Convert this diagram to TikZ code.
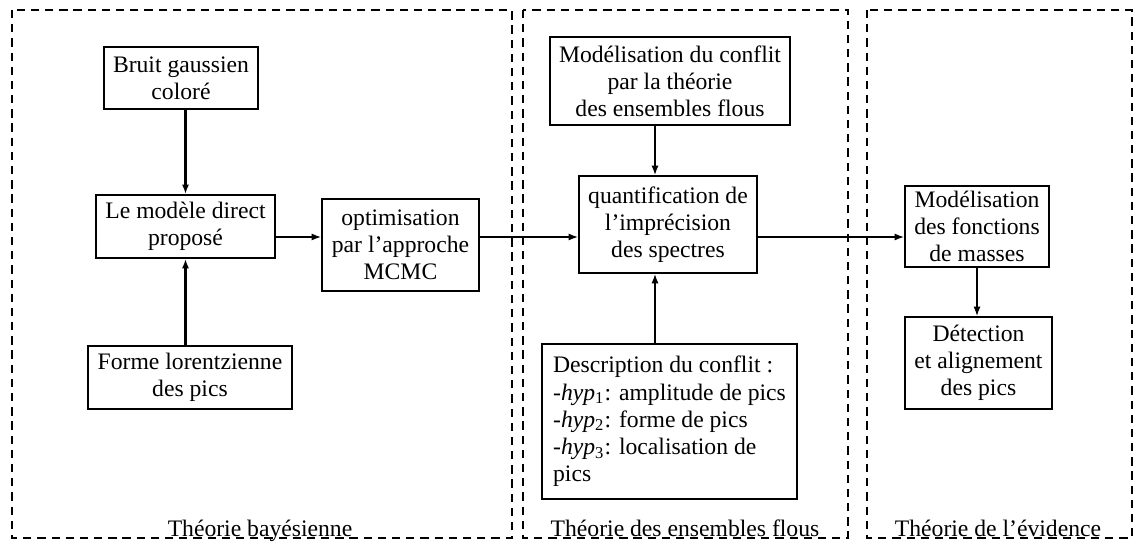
\documentclass[tikz,border=0pt]{standalone}
\usepackage{fontspec}
\setmainfont{Liberation Serif}
\usetikzlibrary{arrows.meta}

\begin{document}
\begin{tikzpicture}[x=0.4229pt,y=-0.4229pt,
    bloc/.style={draw,line width=0.8pt,align=center,inner sep=2pt,font=\fontsize{10}{11.5}\selectfont},
    zone/.style={draw,line width=0.8pt,dash pattern=on 3.5pt off 2.5pt},
    titre/.style={anchor=base,font=\fontsize{10}{11.5}\selectfont},
    fleche/.style={-{Latex[length=4pt,width=3pt]},line width=0.6pt}]

            \useasboundingbox (0,0) rectangle (1135,542);

            % les trois zones
            \draw[zone] (12,10) rectangle (512,538);
            \draw[zone] (523,10) rectangle (848,538);
            \draw[zone] (867,10) rectangle (1132,538);

            \node[titre] (bayes)    at (260,536.5) {Théorie bayésienne};
            \node[titre] (flous)    at (685,536.5) {Théorie des ensembles flous};
            \node[titre] (evidence) at (998,536.5) {Théorie de l’évidence};

            % blocs
            \node[bloc,minimum width=65.1pt,minimum height=26.2pt] (bruit)  at (181,78)    {Bruit gaussien\\coloré};
            \node[bloc,minimum width=75.7pt,minimum height=26.6pt] (modele) at (185.5,226.5) {Le modèle direct\\proposé};
            \node[bloc,minimum width=86.3pt,minimum height=26.6pt] (forme)  at (190,377.5) {Forme lorentzienne\\des pics};
            \node[bloc,minimum width=66.4pt,minimum height=38.9pt] (optim)  at (400.5,245) {optimisation\\par l’approche\\MCMC};

            \node[bloc,minimum width=101.5pt,minimum height=37.2pt] (conflit) at (670,81) {Modélisation du conflit\\par la théorie\\des ensembles flous};
            \node[bloc,minimum width=75.3pt,minimum height=41pt]    (quantif) at (668,224.5) {quantification de\\l’imprécision\\des spectres};
            \node[bloc,align=left,minimum width=107.8pt,minimum height=65.5pt] (descr) at (669.5,421.5)
                {Description du conflit :\\-\textit{hyp}\textsubscript{1}: amplitude de pics\\-\textit{hyp}\textsubscript{2}: forme de pics\\-\textit{hyp}\textsubscript{3}: localisation de\\pics};

            \node[bloc,minimum width=60.9pt,minimum height=34.3pt] (masses)    at (977,226.5) {Modélisation\\des fonctions\\de masses};
            \node[bloc,minimum width=62.2pt,minimum height=38.9pt] (detection) at (978.5,363) {Détection\\et alignement\\des pics};

            % liaisons
            \coordinate (ligne) at (0,237);
            \coordinate (axe)   at (655,0);

            \draw[fleche,line width=0.9pt] (modele.north |- bruit.south) -- (modele.north);
            \draw[fleche,line width=0.9pt] (modele.south |- forme.north) -- (modele.south);
            \draw[fleche] (modele.east |- ligne) -- (optim.west |- ligne);
            \draw[fleche] (optim.east |- ligne) -- (quantif.west |- ligne);
            \draw[fleche] (axe |- conflit.south) -- (axe |- quantif.north);
            \draw[fleche] (axe |- descr.north) -- (axe |- quantif.south);
            \draw[fleche] (quantif.east |- ligne) -- (masses.west |- ligne);
            \draw[fleche] (masses.south) -- (masses.south |- detection.north);

        \end{tikzpicture}
\end{document}
